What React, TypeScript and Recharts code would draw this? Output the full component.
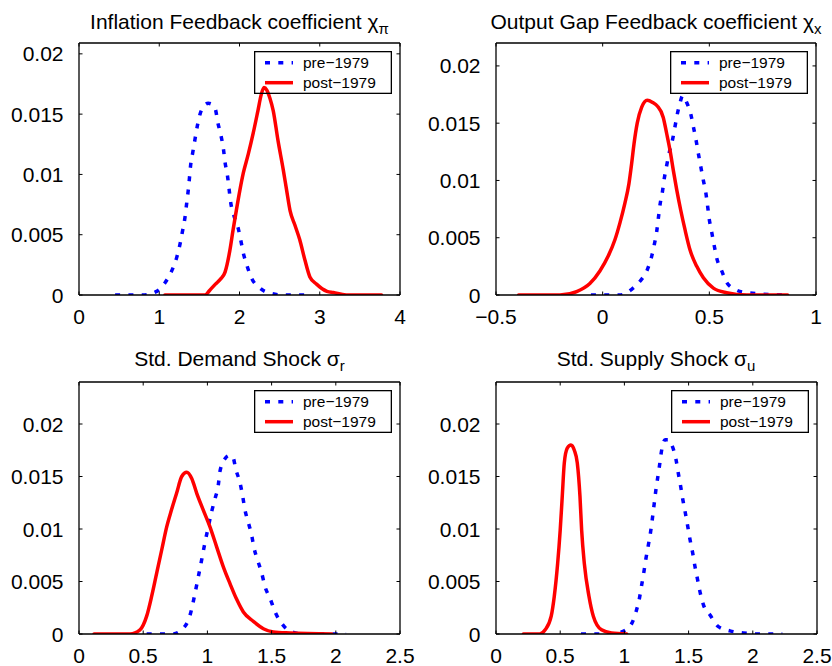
import React from 'react';
import { LineChart, Line, XAxis, YAxis, Legend } from 'recharts';

// ---------- Data ----------
const inflPreX = [0.45, 0.8, 0.968, 1.07, 1.155, 1.217, 1.258, 1.29, 1.32, 1.34, 1.36, 1.375, 1.39, 1.417, 1.445, 1.474, 1.508, 1.55, 1.61, 1.66, 1.70, 1.73, 1.77, 1.80, 1.82, 1.85, 1.87, 1.89, 1.93, 1.985, 2.02, 2.047, 2.09, 2.15, 2.25, 2.41, 2.55, 2.88];
const inflPreY = [0, 0, 0.0003, 0.001, 0.002, 0.0031, 0.0042, 0.0053, 0.0064, 0.0075, 0.0086, 0.0096, 0.0107, 0.0118, 0.0129, 0.014, 0.015, 0.0156, 0.0159, 0.0158, 0.0154, 0.0143, 0.0132, 0.0121, 0.011, 0.0099, 0.0088, 0.0077, 0.0066, 0.0055, 0.0044, 0.0035, 0.0025, 0.0014, 0.0006, 0.0001, 0, 0];

const inflPostX = [1.07, 1.57, 1.63, 1.70, 1.76, 1.82, 1.88, 1.92, 1.96, 2.005, 2.047, 2.11, 2.17, 2.23, 2.27, 2.305, 2.34, 2.38, 2.42, 2.48, 2.545, 2.587, 2.63, 2.69, 2.75, 2.815, 2.877, 2.96, 3.09, 3.17, 3.33, 3.77];
const inflPostY = [0, 0, 0.0004, 0.0009, 0.0013, 0.0019, 0.0037, 0.0054, 0.007, 0.0087, 0.0101, 0.0117, 0.0134, 0.0153, 0.0166, 0.0172, 0.017, 0.0163, 0.0153, 0.0128, 0.0104, 0.0087, 0.007, 0.0058, 0.0046, 0.0029, 0.0015, 0.0009, 0.0003, 0.0002, 0, 0];

const gapPreX = [-0.055, 0.081, 0.136, 0.175, 0.209, 0.23, 0.242, 0.253, 0.261, 0.269, 0.28, 0.289, 0.30, 0.313, 0.328, 0.339, 0.35, 0.363, 0.375, 0.394, 0.413, 0.425, 0.438, 0.449, 0.46, 0.472, 0.483, 0.491, 0.499, 0.511, 0.522, 0.535, 0.558, 0.581, 0.62, 0.675, 0.86];
const gapPreY = [0, 0, 0.0005, 0.0012, 0.0022, 0.0034, 0.0044, 0.0055, 0.0067, 0.0079, 0.009, 0.0102, 0.0113, 0.0125, 0.0136, 0.0147, 0.0158, 0.0168, 0.0174, 0.0168, 0.0158, 0.0147, 0.0135, 0.0123, 0.0112, 0.01, 0.009, 0.0079, 0.0067, 0.0055, 0.0044, 0.0032, 0.0021, 0.0011, 0.0005, 0.0002, 0];

const gapPostX = [-0.394, -0.2, -0.122, -0.06, -0.013, 0.026, 0.057, 0.081, 0.104, 0.123, 0.136, 0.147, 0.162, 0.183, 0.209, 0.235, 0.256, 0.284, 0.30, 0.316, 0.331, 0.347, 0.366, 0.386, 0.41, 0.441, 0.472, 0.519, 0.581, 0.675, 0.867];
const gapPostY = [0, 0, 0.0003, 0.001, 0.0021, 0.0034, 0.0048, 0.0063, 0.008, 0.0097, 0.0115, 0.0132, 0.015, 0.0164, 0.017, 0.0168, 0.0165, 0.0155, 0.0141, 0.0126, 0.0109, 0.0092, 0.0074, 0.0057, 0.0039, 0.0025, 0.0015, 0.0006, 0.0002, 0, 0];

const demPreX = [0.527, 0.73, 0.80, 0.865, 0.904, 0.93, 0.956, 0.981, 1.007, 1.034, 1.06, 1.085, 1.098, 1.137, 1.17, 1.197, 1.223, 1.254, 1.275, 1.293, 1.319, 1.345, 1.363, 1.389, 1.423, 1.449, 1.488, 1.527, 1.579, 1.656, 1.75, 2.08];
const demPreY = [0, 0, 0.0004, 0.0018, 0.0039, 0.0055, 0.0071, 0.0087, 0.0102, 0.0117, 0.0129, 0.0142, 0.0155, 0.0167, 0.017, 0.0169, 0.0156, 0.0144, 0.0131, 0.0118, 0.0106, 0.0094, 0.0082, 0.0071, 0.0058, 0.0045, 0.0034, 0.0021, 0.001, 0.0002, 0, 0];

const demPostX = [0.117, 0.397, 0.475, 0.527, 0.566, 0.605, 0.644, 0.683, 0.72, 0.76, 0.80, 0.839, 0.878, 0.917, 0.968, 1.02, 1.072, 1.124, 1.176, 1.228, 1.28, 1.358, 1.436, 1.514, 1.645, 1.97];
const demPostY = [0, 0, 0.0004, 0.0017, 0.0036, 0.0058, 0.008, 0.0102, 0.0118, 0.0134, 0.015, 0.0154, 0.0148, 0.0134, 0.0118, 0.0102, 0.0083, 0.0064, 0.0048, 0.0033, 0.0021, 0.0012, 0.0005, 0.0002, 0.0001, 0];

const supPreX = [0.662, 0.9, 0.979, 1.057, 1.09, 1.117, 1.135, 1.153, 1.168, 1.187, 1.205, 1.218, 1.231, 1.244, 1.257, 1.273, 1.286, 1.317, 1.345, 1.369, 1.402, 1.42, 1.439, 1.455, 1.475, 1.494, 1.511, 1.532, 1.55, 1.568, 1.589, 1.615, 1.667, 1.732, 1.822, 1.926, 2.03, 2.23];
const supPreY = [0, 0, 0.0002, 0.001, 0.0021, 0.0034, 0.0047, 0.006, 0.0072, 0.0085, 0.0098, 0.011, 0.0123, 0.0136, 0.0147, 0.016, 0.0172, 0.0185, 0.0185, 0.018, 0.0166, 0.0153, 0.014, 0.0128, 0.0115, 0.0102, 0.009, 0.0077, 0.0064, 0.0053, 0.004, 0.0028, 0.0018, 0.0007, 0.0003, 0.0001, 0, 0];

const supPostX = [0.213, 0.34, 0.383, 0.43, 0.454, 0.48, 0.50, 0.516, 0.532, 0.555, 0.584, 0.61, 0.633, 0.654, 0.667, 0.688, 0.724, 0.758, 0.822, 0.9, 1.018];
const supPostY = [0, 0, 0.0004, 0.0017, 0.0036, 0.0067, 0.0099, 0.0131, 0.0163, 0.0177, 0.018, 0.0175, 0.0163, 0.0131, 0.0099, 0.0067, 0.0036, 0.0017, 0.0004, 0.0001, 0];

const seriesNames = ['pre\u22121979', 'post\u22121979'];
const seriesColors = ['#0000ff', '#ff0000'];
const seriesDash = ['5 8.3', undefined];
const yTicks = [0, 0.005, 0.01, 0.015, 0.02];
const xTicks1 = [0, 1, 2, 3, 4];
const xTicks2 = [-0.5, 0, 0.5, 1];
const xTicks3 = [0, 0.5, 1, 1.5, 2, 2.5];

const zip = (xs: number[], ys: number[]) => xs.map((x, i) => ({ x, y: ys[i] }));

const FONT = '"Liberation Sans", Arial, Helvetica, sans-serif';
const fmt = (v: number) => String(v).replace('-', '\u2212');

const BottomTick = (props: any) => {
  const { x, y, payload } = props;
  return (
    <g>
      <line x1={x} y1={y} x2={x} y2={y - 3.5} stroke="#000" strokeWidth={1} />
      <text x={x} y={y + 29} textAnchor="middle" fontSize={21} fontFamily={FONT} fill="#000">
        {fmt(payload.value)}
      </text>
    </g>
  );
};
const TopTick = (props: any) => {
  const { x, y } = props;
  return <line x1={x} y1={y} x2={x} y2={y + 3.5} stroke="#000" strokeWidth={1} />;
};
const LeftTick = (props: any) => {
  const { x, y, payload } = props;
  return (
    <g>
      <line x1={x} y1={y} x2={x + 3.5} y2={y} stroke="#000" strokeWidth={1} />
      <text x={x - 15.5} y={y + 7.5} textAnchor="end" fontSize={21} fontFamily={FONT} fill="#000">
        {fmt(payload.value)}
      </text>
    </g>
  );
};
const RightTick = (props: any) => {
  const { x, y } = props;
  return <line x1={x} y1={y} x2={x - 3.5} y2={y} stroke="#000" strokeWidth={1} />;
};

const LegendBox = (props: any) => {
  const payload: any[] = props.payload || [];
  const entries = seriesNames.map((name, i) => {
    const p = payload.find((e: any) => e.value === name);
    return { name, color: p ? p.color : seriesColors[i], dash: seriesDash[i] };
  });
  return (
    <svg width={138} height={43} style={{ display: 'block', overflow: 'visible' }}>
      <rect x={0.65} y={0.65} width={136.7} height={41.7} fill="none" stroke="#000" strokeWidth={1.3} />
      {entries.map((e, i) => (
        <g key={e.name}>
          <line x1={11} x2={39} y1={11.7 + 20 * i} y2={11.7 + 20 * i}
            stroke={e.color} strokeWidth={3.5} strokeDasharray={e.dash} />
          <text x={49} y={17.2 + 20 * i} fontSize={15.5} fontFamily={FONT} fill="#000">
            {e.name}
          </text>
        </g>
      ))}
    </svg>
  );
};

type PanelProps = {
  left: number; top: number; w: number; h: number;
  xDomain: [number, number]; xTicks: number[]; yMax: number;
  pre: { x: number; y: number }[]; post: { x: number; y: number }[];
};

const Panel = ({ left, top, w, h, xDomain, xTicks, yMax, pre, post }: PanelProps) => {
  const W = 416, H = 333;
  const margin = { left: left - 60, top: top - 10, right: W - (left + w) - 10, bottom: H - (top + h) - 30 };
  const axisLine = { stroke: '#000', strokeWidth: 1.3 };
  return (
    <LineChart width={W} height={H} margin={margin}>
      <XAxis xAxisId="b" dataKey="x" type="number" domain={xDomain} ticks={xTicks} interval={0}
        orientation="bottom" height={30} tickSize={0} tickMargin={0} tickLine={false}
        axisLine={axisLine} tick={<BottomTick />} allowDataOverflow />
      <XAxis xAxisId="t" dataKey="x" type="number" domain={xDomain} ticks={xTicks} interval={0}
        orientation="top" height={10} tickSize={0} tickMargin={0} tickLine={false}
        axisLine={axisLine} tick={<TopTick />} allowDataOverflow />
      <YAxis yAxisId="l" type="number" domain={[0, yMax]} ticks={yTicks} interval={0}
        orientation="left" width={60} tickSize={0} tickMargin={0} tickLine={false}
        axisLine={axisLine} tick={<LeftTick />} allowDataOverflow />
      <YAxis yAxisId="r" type="number" domain={[0, yMax]} ticks={yTicks} interval={0}
        orientation="right" width={10} tickSize={0} tickMargin={0} tickLine={false}
        axisLine={axisLine} tick={<RightTick />} allowDataOverflow />
      <Line xAxisId="b" yAxisId="l" data={pre} dataKey="y" name={seriesNames[0]} type="monotone"
        stroke={seriesColors[0]} strokeWidth={3.5} strokeDasharray={seriesDash[0]} dot={false} activeDot={false}
        isAnimationActive={false} strokeLinejoin="round" />
      <Line xAxisId="b" yAxisId="l" data={post} dataKey="y" name={seriesNames[1]} type="monotone"
        stroke={seriesColors[1]} strokeWidth={3.5} dot={false} activeDot={false}
        isAnimationActive={false} strokeLinejoin="round" strokeLinecap="round" />
      <Legend layout="vertical" align="center" verticalAlign="middle" content={<LegendBox />}
        wrapperStyle={{ left: left + w - 8 - 138, top: top + 8, width: 138, height: 43 }} />
    </LineChart>
  );
};

const Title = ({ x, y, main, sym, sub }: { x: number; y: number; main: string; sym: string; sub: string }) => (
  <text x={x} y={y} textAnchor="middle" fontSize={21} fontFamily={FONT} fill="#000">
    {main}
    <tspan>{sym}</tspan>
    <tspan fontSize={15} dy={5}>{sub}</tspan>
  </text>
);

export default function App() {
  return (
    <div style={{ position: 'absolute', left: 0, top: 0, width: 832, height: 666, background: '#fff', overflow: 'hidden' }}>
      <div style={{ position: 'absolute', left: 0, top: 0 }}>
        <Panel left={79} top={43} w={321} h={252} xDomain={[0, 4]} xTicks={xTicks1} yMax={0.0209}
          pre={zip(inflPreX, inflPreY)} post={zip(inflPostX, inflPostY)} />
      </div>
      <div style={{ position: 'absolute', left: 416, top: 0 }}>
        <Panel left={80} top={43} w={320} h={252} xDomain={[-0.5, 1]} xTicks={xTicks2} yMax={0.022}
          pre={zip(gapPreX, gapPreY)} post={zip(gapPostX, gapPostY)} />
      </div>
      <div style={{ position: 'absolute', left: 0, top: 333 }}>
        <Panel left={79} top={49} w={321} h={252} xDomain={[0, 2.5]} xTicks={xTicks3} yMax={0.024}
          pre={zip(demPreX, demPreY)} post={zip(demPostX, demPostY)} />
      </div>
      <div style={{ position: 'absolute', left: 416, top: 333 }}>
        <Panel left={80} top={49} w={321} h={252} xDomain={[0, 2.5]} xTicks={xTicks3} yMax={0.024}
          pre={zip(supPreX, supPreY)} post={zip(supPostX, supPostY)} />
      </div>
      <svg width={832} height={666} style={{ position: 'absolute', left: 0, top: 0, pointerEvents: 'none' }}>
        <Title x={239.5} y={29} main="Inflation Feedback coefficient " sym={'\u03C7'} sub={'\u03C0'} />
        <Title x={656} y={29} main="Output Gap Feedback coefficient " sym={'\u03C7'} sub="x" />
        <Title x={239.5} y={366} main="Std. Demand Shock " sym={'\u03C3'} sub="r" />
        <Title x={656} y={366} main="Std. Supply Shock " sym={'\u03C3'} sub="u" />
      </svg>
    </div>
  );
}
